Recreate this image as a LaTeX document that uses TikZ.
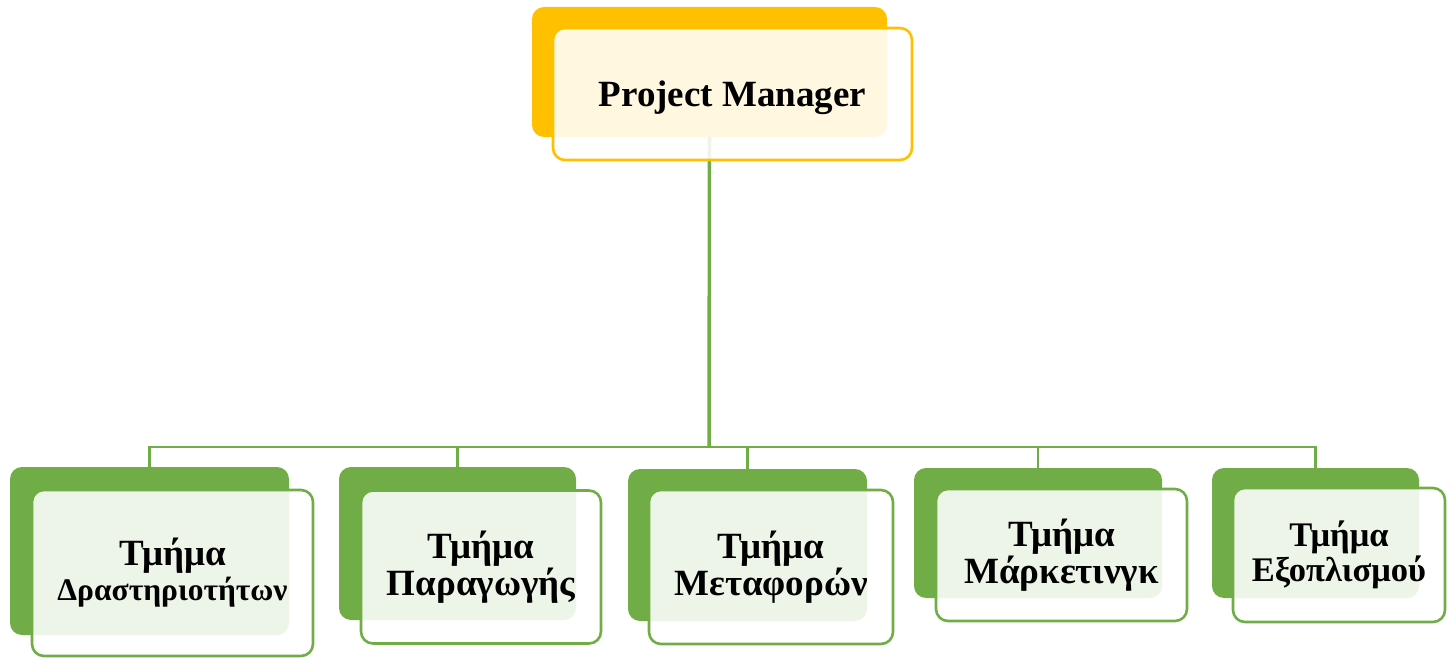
\documentclass[tikz,border=0pt]{standalone}
\usepackage{fontspec}
\setmainfont{Liberation Serif}
\definecolor{pmyellow}{HTML}{FFC000}
\definecolor{pmgreen}{HTML}{70AD47}
\tikzset{
  back/.style={rounded corners=12pt, inner sep=0pt, outer sep=0pt, fill=#1},
  front/.style={rounded corners=12pt, inner sep=0pt, outer sep=0pt, draw=#1, line width=2.6pt,
    fill=white, fill opacity=0.88, text opacity=1, draw opacity=1, align=center,
    font=\bfseries\fontsize{37}{37}\selectfont},
  trunk/.style={draw=pmgreen, line width=3.5pt},
  busline/.style={draw=pmgreen, line width=2.5pt}
}
\begin{document}
\begin{tikzpicture}[x=1pt,y=-1pt]
\useasboundingbox (0,0) rectangle (1452,658);
% top
\node[back=pmyellow, minimum width=355pt, minimum height=130pt] (bkT) at (709.5,72) {};
\coordinate (bus) at (709,447);
\draw[trunk] (bkT.south) -- (bus);
\node[front=pmyellow, minimum width=359pt, minimum height=132pt, text height=32pt, text depth=6pt] (frT) at (732.5,94) {Project Manager};
% bottom back boxes
\node[back=pmgreen, minimum width=279pt, minimum height=168pt] (bk1) at (149.5,551) {};
\node[back=pmgreen, minimum width=237pt, minimum height=153pt] (bk2) at (457.5,543.5) {};
\node[back=pmgreen, minimum width=239pt, minimum height=152pt] (bk3) at (747.5,545) {};
\node[back=pmgreen, minimum width=248pt, minimum height=130pt] (bk4) at (1038,533) {};
\node[back=pmgreen, minimum width=207pt, minimum height=130pt] (bk5) at (1315.5,533) {};
% bus
\draw[busline] (bk1.north) |- (bus) -| (bk5.north);
\draw[busline] (bk2.north) -- (bk2.north |- bus);
\draw[busline] (bk3.north) -- (bk3.north |- bus);
\draw[busline] (bk4.north) -- (bk4.north |- bus);
% front boxes
\node[front=pmgreen, minimum width=281pt, minimum height=166pt] (fr1) at (172.5,573) {Τμήμα\\[-2pt]{\fontsize{31.5}{35}\selectfont Δραστηριοτήτων}};
\node[front=pmgreen, minimum width=240pt, minimum height=153pt] (fr2) at (481,567) {Τμήμα\\Παραγωγής};
\node[front=pmgreen, minimum width=244pt, minimum height=154pt] (fr3) at (771,567) {Τμήμα\\Μεταφορών};
\node[front=pmgreen, minimum width=251pt, minimum height=132pt] (fr4) at (1061.5,555) {Τμήμα\\Μάρκετινγκ};
\node[front=pmgreen, minimum width=212pt, minimum height=134pt, font=\bfseries\fontsize{34.5}{35}\selectfont] (fr5) at (1339,555) {Τμήμα\\Εξοπλισμού};
\end{tikzpicture}
\end{document}
